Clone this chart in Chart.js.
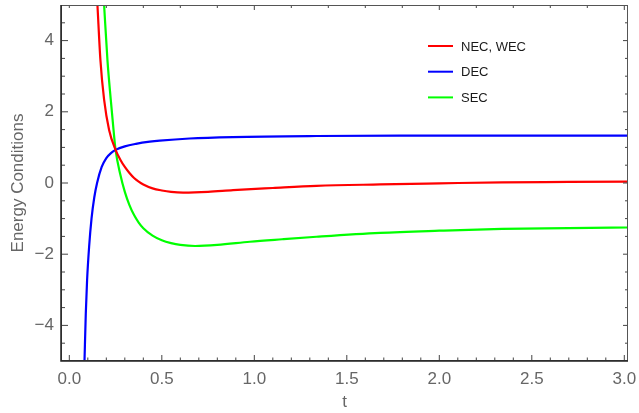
<!DOCTYPE html>
<html>
<head>
<meta charset="utf-8">
<script src="https://cdn.jsdelivr.net/npm/chart.js@4.4.0/dist/chart.umd.min.js"></script>
<style>
  html, body { margin: 0; padding: 0; background: #fff; }
  #wrap { width: 639px; height: 413px; }
</style>
</head>
<body>
<div id="wrap"><canvas id="ec"></canvas></div>
<script>
// Data
var seriesNames = ["NEC, WEC", "DEC", "SEC"];
var seriesColors = ["#ff0000", "#0000ff", "#00ff00"];

var necT = [0.152, 0.168, 0.188, 0.215, 0.25, 0.275, 0.30, 0.325, 0.35, 0.375, 0.40, 0.45, 0.50, 0.55, 0.615, 0.75, 0.885, 1.1, 1.336, 1.68, 2.0, 2.34, 2.7, 3.02];
var necY = [5.0, 3.46, 2.34, 1.49, 0.93, 0.66, 0.45, 0.28, 0.14, 0.04, -0.04, -0.15, -0.21, -0.25, -0.27, -0.25, -0.20, -0.14, -0.08, -0.04, -0.01, 0.02, 0.03, 0.04];

var decT = [0.082, 0.089, 0.096, 0.107, 0.12, 0.135, 0.15, 0.175, 0.20, 0.225, 0.25, 0.30, 0.36, 0.435, 0.489, 0.65, 0.884, 1.336, 1.786, 2.4, 3.02];
var decY = [-5.0, -3.67, -2.73, -1.79, -1.0, -0.40, 0.0, 0.45, 0.70, 0.84, 0.93, 1.03, 1.10, 1.16, 1.19, 1.25, 1.29, 1.32, 1.33, 1.33, 1.33];

var secT = [0.188, 0.206, 0.224, 0.239, 0.25, 0.275, 0.30, 0.325, 0.35, 0.375, 0.40, 0.45, 0.50, 0.55, 0.60, 0.68, 0.80, 0.976, 1.15, 1.336, 1.68, 2.0, 2.34, 2.7, 3.02];
var secY = [5.0, 3.46, 2.34, 1.49, 0.93, 0.25, -0.25, -0.62, -0.90, -1.11, -1.27, -1.48, -1.61, -1.69, -1.74, -1.77, -1.74, -1.65, -1.58, -1.51, -1.40, -1.34, -1.29, -1.27, -1.25];

var xTicks = [0, 0.5, 1.0, 1.5, 2.0, 2.5, 3.0];
var yTicks = [-4, -2, 0, 2, 4];

function pts(t, y) {
  return t.map(function(v, i) { return { x: v, y: y[i] }; });
}

var gray = "#666666";
var FONT = "'Liberation Sans', Arial, sans-serif";

// frame with inward ticks, Mathematica style
var framePlugin = {
  id: "frame",
  afterDatasetsDraw: function(chart) {
    var ctx = chart.ctx, a = chart.chartArea;
    var xs = chart.scales.x, ys = chart.scales.y;
    ctx.save();
    ctx.lineWidth = 1;
    ctx.strokeStyle = "#444";
    function tick(x1, y1, x2, y2) {
      ctx.beginPath(); ctx.moveTo(x1, y1); ctx.lineTo(x2, y2); ctx.stroke();
    }
    var v, p, i;
    // bottom: minor 0.1, major 0.5
    for (i = 0; i <= 30; i++) {
      v = i / 10; p = xs.getPixelForValue(v);
      tick(p, a.bottom, p, a.bottom - (i % 5 === 0 ? 6 : 3.5));
    }
    // top: every 0.2, major at integers
    for (i = 0; i <= 15; i++) {
      v = i / 5; p = xs.getPixelForValue(v);
      tick(p, a.top, p, a.top + (i % 5 === 0 && i > 0 ? 5 : 3));
    }
    // left + right: minor 0.5, major 2
    for (i = -10; i <= 10; i++) {
      v = i / 2; p = ys.getPixelForValue(v);
      if (p < a.top + 1 || p > a.bottom - 1) continue;
      var major = (i % 4 === 0);
      tick(a.left, p, a.left + (major ? 7 : 4), p);
      tick(a.right, p, a.right - (major ? 5 : 3), p);
    }
    // frame
    ctx.strokeStyle = "#555";
    ctx.lineWidth = 1;
    ctx.strokeRect(a.left + 0.5, a.top + 0.5, a.right - a.left - 1, a.bottom - a.top - 1);
    ctx.strokeStyle = "#222";
    ctx.lineWidth = 1.5;
    ctx.beginPath();
    ctx.moveTo(a.left, a.top); ctx.lineTo(a.left, a.bottom); ctx.lineTo(a.right, a.bottom);
    ctx.stroke();
    ctx.restore();
  }
};

// legend placed inside the plot
var legendPlugin = {
  id: "innerLegend",
  afterDraw: function(chart) {
    var ctx = chart.ctx, a = chart.chartArea;
    var x0 = a.left + 367, y0 = a.top + 41, gap = 25.7;
    ctx.save();
    ctx.font = "13px " + FONT;
    ctx.textBaseline = "middle";
    chart.data.datasets.forEach(function(ds, i) {
      var y = y0 + i * gap;
      ctx.strokeStyle = ds.borderColor;
      ctx.lineWidth = 2;
      ctx.beginPath(); ctx.moveTo(x0, y); ctx.lineTo(x0 + 25, y); ctx.stroke();
      ctx.fillStyle = "#1a1a1a";
      ctx.fillText(ds.label, x0 + 33, y + 1);
    });
    ctx.restore();
  }
};

var datasets = [pts(necT, necY), pts(decT, decY), pts(secT, secY)].map(function(d, i) {
  return {
    label: seriesNames[i],
    data: d,
    borderColor: seriesColors[i],
    backgroundColor: seriesColors[i],
    borderWidth: 2.2,
    showLine: true,
    pointRadius: 0,
    cubicInterpolationMode: "monotone",
    fill: false
  };
});

var chart = new Chart(document.getElementById("ec"), {
  type: "scatter",
  data: { datasets: datasets },
  options: {
    responsive: true,
    maintainAspectRatio: false,
    animation: false,
    layout: { padding: { left: 0, right: 11, top: 5, bottom: 0 } },
    plugins: { legend: { display: false }, tooltip: { enabled: false } },
    scales: {
      x: {
        type: "linear",
        min: -0.045,
        max: 3.02,
        grid: { display: false, drawTicks: false },
        border: { display: false },
        afterBuildTicks: function(s) { s.ticks = xTicks.map(function(v) { return { value: v }; }); },
        afterFit: function(s) { s.height = 52; s.paddingLeft = 0; s.paddingRight = 0; },
        ticks: {
          color: gray,
          padding: 8,
          font: { family: FONT, size: 17 },
          maxRotation: 0,
          callback: function(v) { return Number(v).toFixed(1); }
        },
        title: {
          display: true, text: "t", color: gray,
          font: { family: FONT, size: 17 },
          padding: { top: 0, bottom: 0 }
        }
      },
      y: {
        type: "linear",
        min: -5,
        max: 5,
        grid: { display: false, drawTicks: false },
        border: { display: false },
        afterBuildTicks: function(s) { s.ticks = yTicks.map(function(v) { return { value: v }; }); },
        afterFit: function(s) { s.width = 61; s.paddingTop = 0; s.paddingBottom = 0; },
        ticks: {
          color: gray,
          padding: 7,
          font: { family: FONT, size: 17 },
          callback: function(v) { return v < 0 ? "\u2212" + Math.abs(v) : String(v); }
        },
        title: {
          display: true, text: "Energy Conditions", color: gray,
          font: { family: FONT, size: 17 },
          padding: { top: 8, bottom: 0 }
        }
      }
    }
  },
  plugins: [framePlugin, legendPlugin]
});
</script>
</body>
</html>
